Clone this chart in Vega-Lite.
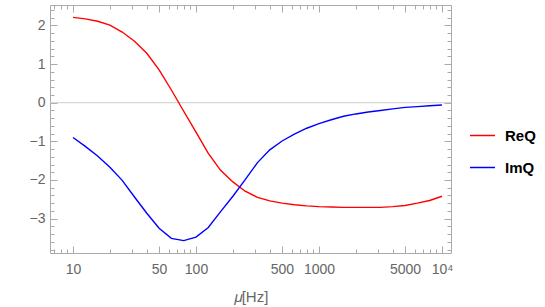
{
  "$schema": "https://vega.github.io/schema/vega-lite/v6.json",
  "autosize": {"type": "none"},
  "padding": {"left": 50, "top": 5, "right": 94, "bottom": 54},
  "width": 401,
  "height": 248,
  "config": {
    "view": {"stroke": null},
    "font": "Liberation Sans",
    "axis": {"grid": false}
  },
  "data": {"values": [
    {"mu": 10, "Q": 2.21, "s": "ReQ"}, {"mu": 12.59, "Q": 2.17, "s": "ReQ"}, {"mu": 15.85, "Q": 2.11, "s": "ReQ"}, {"mu": 19.95, "Q": 2.01, "s": "ReQ"}, {"mu": 25.12, "Q": 1.83, "s": "ReQ"}, {"mu": 31.62, "Q": 1.59, "s": "ReQ"}, {"mu": 39.81, "Q": 1.28, "s": "ReQ"}, {"mu": 50.12, "Q": 0.85, "s": "ReQ"}, {"mu": 63.1, "Q": 0.33, "s": "ReQ"}, {"mu": 79.43, "Q": -0.22, "s": "ReQ"}, {"mu": 100, "Q": -0.76, "s": "ReQ"}, {"mu": 125.9, "Q": -1.31, "s": "ReQ"}, {"mu": 158.5, "Q": -1.75, "s": "ReQ"}, {"mu": 199.5, "Q": -2.05, "s": "ReQ"}, {"mu": 251.2, "Q": -2.29, "s": "ReQ"}, {"mu": 316.2, "Q": -2.45, "s": "ReQ"}, {"mu": 398.1, "Q": -2.54, "s": "ReQ"}, {"mu": 501.2, "Q": -2.6, "s": "ReQ"}, {"mu": 631, "Q": -2.64, "s": "ReQ"}, {"mu": 794.3, "Q": -2.67, "s": "ReQ"}, {"mu": 1000, "Q": -2.69, "s": "ReQ"}, {"mu": 1259, "Q": -2.7, "s": "ReQ"}, {"mu": 1585, "Q": -2.71, "s": "ReQ"}, {"mu": 1995, "Q": -2.71, "s": "ReQ"}, {"mu": 2512, "Q": -2.71, "s": "ReQ"}, {"mu": 3162, "Q": -2.71, "s": "ReQ"}, {"mu": 3981, "Q": -2.69, "s": "ReQ"}, {"mu": 5012, "Q": -2.66, "s": "ReQ"}, {"mu": 6310, "Q": -2.6, "s": "ReQ"}, {"mu": 7943, "Q": -2.53, "s": "ReQ"}, {"mu": 10000, "Q": -2.42, "s": "ReQ"},
    {"mu": 10, "Q": -0.9, "s": "ImQ"}, {"mu": 12.59, "Q": -1.13, "s": "ImQ"}, {"mu": 15.85, "Q": -1.38, "s": "ImQ"}, {"mu": 19.95, "Q": -1.67, "s": "ImQ"}, {"mu": 25.12, "Q": -2.01, "s": "ImQ"}, {"mu": 31.62, "Q": -2.44, "s": "ImQ"}, {"mu": 39.81, "Q": -2.86, "s": "ImQ"}, {"mu": 50.12, "Q": -3.25, "s": "ImQ"}, {"mu": 63.1, "Q": -3.51, "s": "ImQ"}, {"mu": 79.43, "Q": -3.57, "s": "ImQ"}, {"mu": 100, "Q": -3.48, "s": "ImQ"}, {"mu": 125.9, "Q": -3.23, "s": "ImQ"}, {"mu": 158.5, "Q": -2.82, "s": "ImQ"}, {"mu": 199.5, "Q": -2.42, "s": "ImQ"}, {"mu": 251.2, "Q": -1.99, "s": "ImQ"}, {"mu": 316.2, "Q": -1.55, "s": "ImQ"}, {"mu": 398.1, "Q": -1.22, "s": "ImQ"}, {"mu": 501.2, "Q": -0.99, "s": "ImQ"}, {"mu": 631, "Q": -0.81, "s": "ImQ"}, {"mu": 794.3, "Q": -0.66, "s": "ImQ"}, {"mu": 1000, "Q": -0.54, "s": "ImQ"}, {"mu": 1259, "Q": -0.44, "s": "ImQ"}, {"mu": 1585, "Q": -0.35, "s": "ImQ"}, {"mu": 1995, "Q": -0.29, "s": "ImQ"}, {"mu": 2512, "Q": -0.24, "s": "ImQ"}, {"mu": 3162, "Q": -0.2, "s": "ImQ"}, {"mu": 3981, "Q": -0.16, "s": "ImQ"}, {"mu": 5012, "Q": -0.12, "s": "ImQ"}, {"mu": 6310, "Q": -0.1, "s": "ImQ"}, {"mu": 7943, "Q": -0.08, "s": "ImQ"}, {"mu": 10000, "Q": -0.06, "s": "ImQ"}
  ]},
  "resolve": {"axis": {"x": "independent", "y": "independent"}},
  "layer": [
    {
      "data": {"values": [{"z": 0}]},
      "mark": {"type": "rule", "color": "#cccccc", "strokeWidth": 1},
      "encoding": {
        "y": {"field": "z", "type": "quantitative", "scale": {"domain": [-3.89, 2.53], "nice": false, "zero": false}, "axis": null}
      }
    },
    {
      "mark": {"type": "line", "strokeWidth": 1.4, "clip": true},
      "encoding": {
        "x": {"field": "mu", "type": "quantitative",
          "scale": {"type": "log", "domain": [6.5, 11840], "nice": false},
          "axis": {"orient": "bottom", "title": "𝜇[Hz]", "titleFont": "Liberation Sans, DejaVu Sans", "titleFontSize": 15, "titleFontWeight": "normal", "titleColor": "#666666", "titlePadding": 10,
            "values": [7, 8, 9, 10, 20, 30, 40, 50, 60, 70, 80, 90, 100, 200, 300, 400, 500, 600, 700, 800, 900, 1000, 2000, 3000, 4000, 5000, 6000, 7000, 8000, 9000, 10000],
            "labelExpr": "datum.value == 10000 ? '10⁴' : ((datum.value == 10 || datum.value == 50 || datum.value == 100 || datum.value == 500 || datum.value == 1000 || datum.value == 5000) ? format(datum.value, 'd') : '')",
            "labelFontSize": 14, "labelColor": "#666666", "labelPadding": 16, "labelOverlap": false, "labelFlush": false,
            "domainColor": "#aaaaaa", "tickColor": "#aaaaaa",
            "tickSize": {"condition": {"test": "datum.value == 10 || datum.value == 50 || datum.value == 100 || datum.value == 500 || datum.value == 1000 || datum.value == 5000 || datum.value == 10000", "value": -7}, "value": -4}
          }},
        "y": {"field": "Q", "type": "quantitative",
          "scale": {"domain": [-3.89, 2.53], "nice": false, "zero": false},
          "axis": {"orient": "left", "title": null,
            "values": [-3.8, -3.6, -3.4, -3.2, -3, -2.8, -2.6, -2.4, -2.2, -2, -1.8, -1.6, -1.4, -1.2, -1, -0.8, -0.6, -0.4, -0.2, 0, 0.2, 0.4, 0.6, 0.8, 1, 1.2, 1.4, 1.6, 1.8, 2, 2.2, 2.4],
            "labelExpr": "abs(datum.value - round(datum.value)) < 0.001 ? (datum.value < 0 ? '−' + format(-datum.value, 'd') : format(datum.value, 'd')) : ''",
            "labelFontSize": 14, "labelColor": "#666666", "labelPadding": 12,
            "domainColor": "#aaaaaa", "tickColor": "#aaaaaa",
            "tickSize": {"condition": {"test": "abs(datum.value - round(datum.value)) < 0.001", "value": -7}, "value": -4}
          }},
        "color": {"field": "s", "type": "nominal",
          "scale": {"domain": ["ReQ", "ImQ"], "range": ["#ff0000", "#0000ff"]},
          "legend": {"orient": "none", "legendX": 419, "legendY": 117, "title": null, "symbolType": "stroke", "symbolSize": 625, "symbolStrokeWidth": 1.5, "labelFontSize": 15, "labelFontWeight": "bold", "labelColor": "#000000", "labelOffset": 9, "rowPadding": 10, "padding": 0}
        }
      }
    },
    {
      "mark": {"type": "line", "opacity": 0},
      "encoding": {
        "x": {"field": "mu", "type": "quantitative",
          "scale": {"type": "log", "domain": [6.5, 11840], "nice": false},
          "axis": {"orient": "top", "title": null, "labels": false,
            "values": [7, 8, 9, 10, 20, 30, 40, 50, 60, 70, 80, 90, 100, 200, 300, 400, 500, 600, 700, 800, 900, 1000, 2000, 3000, 4000, 5000, 6000, 7000, 8000, 9000, 10000],
            "domainColor": "#aaaaaa", "tickColor": "#aaaaaa",
            "tickSize": {"condition": {"test": "datum.value == 10 || datum.value == 50 || datum.value == 100 || datum.value == 500 || datum.value == 1000 || datum.value == 5000 || datum.value == 10000", "value": -7}, "value": -4}
          }},
        "y": {"field": "Q", "type": "quantitative",
          "scale": {"domain": [-3.89, 2.53], "nice": false, "zero": false},
          "axis": {"orient": "right", "title": null, "labels": false,
            "values": [-3.8, -3.6, -3.4, -3.2, -3, -2.8, -2.6, -2.4, -2.2, -2, -1.8, -1.6, -1.4, -1.2, -1, -0.8, -0.6, -0.4, -0.2, 0, 0.2, 0.4, 0.6, 0.8, 1, 1.2, 1.4, 1.6, 1.8, 2, 2.2, 2.4],
            "domainColor": "#aaaaaa", "tickColor": "#aaaaaa",
            "tickSize": {"condition": {"test": "abs(datum.value - round(datum.value)) < 0.001", "value": -7}, "value": -4}
          }},
        "detail": {"field": "s", "type": "nominal"}
      }
    }
  ]
}
